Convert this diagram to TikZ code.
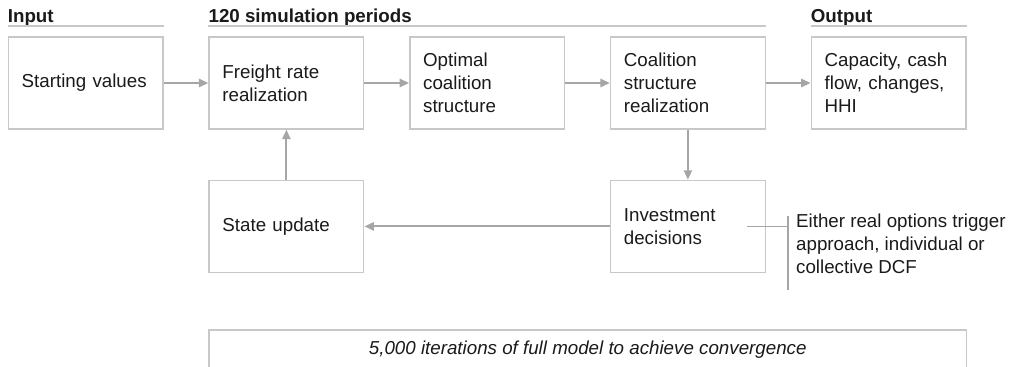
\documentclass[tikz,border=0pt]{standalone}
\usepackage{fontspec}
\setmainfont{Liberation Sans}
\usepackage{tikz}
\usetikzlibrary{arrows.meta,positioning,calc}
\definecolor{boxgray}{HTML}{C8C8C8}
\definecolor{arrowgray}{HTML}{A6A6A6}
\definecolor{txt}{HTML}{1A1A1A}

\begin{document}
\begin{tikzpicture}[
  font=\fontsize{16}{19.6}\selectfont,
  stage/.style={draw=boxgray,line width=1.2pt,text width=3.84cm,inner xsep=0.4cm,minimum height=2.76cm,align=left,text=txt},
  flow/.style={draw=arrowgray,line width=1.6pt,-{Triangle[length=8pt,width=7pt]}},
  head/.style={font=\fontsize{16}{19.6}\selectfont\bfseries,inner sep=0pt,anchor=base west,text=txt},
  rule/.style={draw=boxgray,line width=1.4pt},
  tick/.style={draw=arrowgray,line width=1pt}
]
  \useasboundingbox (0,0) rectangle (30.36,-11.01);
  % top row
  \node[stage] (start) at (2.57,-2.49) {Starting values};
  \node[stage,right=1.34cm of start] (freight) {Freight rate\\realization};
  \node[stage,right=1.34cm of freight] (optimal) {Optimal\\coalition\\structure};
  \node[stage,right=1.34cm of optimal] (coal) {Coalition\\structure\\realization};
  \node[stage,right=1.34cm of coal] (output) {Capacity, cash\\flow, changes,\\HHI};
  % second row
  \node[stage,below=1.5cm of freight] (state) {State update};
  \node[stage,below=1.5cm of coal] (invest) {Investment\\decisions};
  % headers
  \node[head] (inhd) at ($(start.north west)+(0,0.42)$) {Input};
  \node[head] (simhd) at ($(freight.north west)+(0,0.42)$) {120 simulation periods};
  \node[head] (outhd) at ($(output.north west)+(0,0.42)$) {Output};
  \draw[rule] ($(start.north west)+(0,0.3)$) -- ($(start.north east)+(0,0.3)$);
  \draw[rule] ($(freight.north west)+(0,0.3)$) -- ($(coal.north east)+(0,0.3)$);
  \draw[rule] ($(output.north west)+(0,0.3)$) -- ($(output.north east)+(0,0.3)$);
  % flow
  \draw[flow] (start) -- (freight);
  \draw[flow] (freight) -- (optimal);
  \draw[flow] (optimal) -- (coal);
  \draw[flow] (coal) -- (output);
  \draw[flow] (coal) -- (invest);
  \draw[flow] (invest) -- (state);
  \draw[flow] (state) -- (freight);
  % note on investment rule
  \coordinate (tickstart) at ($(invest.east)+(-0.57,0)$);
  \coordinate (bar) at ($(invest.east)+(0.66,0)$);
  \draw[tick] (tickstart) -- (bar);
  \draw[tick] ($(bar)+(0,0.3)$) -- ($(bar)+(0,-1.92)$);
  \node[anchor=north west,align=left,inner sep=0pt,text=txt] (note) at ($(invest.east)+(0.9,0.38)$)
    {Either real options trigger\\approach, individual or\\collective DCF};
  % iterations
  \node[draw=boxgray,line width=1.2pt,minimum width=22.72cm,minimum height=1.2cm,anchor=north west,
    font=\fontsize{16}{19.6}\selectfont\itshape,text=txt] (iter) at ($(state.south west)+(0,-1.68)$)
    {5,000 iterations of full model to achieve convergence};
\end{tikzpicture}
\end{document}
